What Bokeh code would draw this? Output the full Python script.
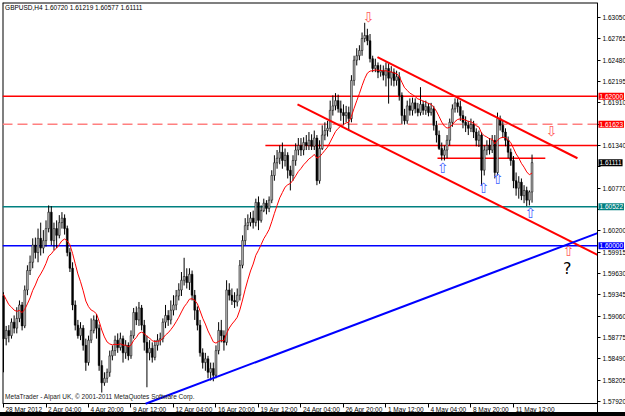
from bokeh.plotting import figure
from bokeh.models import Range1d, FixedTicker, Label, ColumnDataSource, Div, LinearAxis
from bokeh.layouts import column
from bokeh.embed import file_html
from bokeh.resources import INLINE
from bokeh.core.properties import value

header_text = "GBPUSD,H4  1.60720 1.61219 1.60577 1.61111"
copyright_text = "MetaTrader - Alpari UK, \u00a9 2001-2011 MetaQuotes Software Corp."

first_open = 1.5933
closes = [
    1.5876, 1.5887, 1.5880, 1.5898, 1.5890, 1.5903, 1.5921, 1.5893, 1.5941, 1.5967,
    1.5978, 1.6001, 1.5991, 1.6010, 1.5997, 1.6007, 1.6023, 1.6045, 1.6007, 1.6023,
    1.6014, 1.6031, 1.6037, 1.6023, 1.5991, 1.5970, 1.5921, 1.5894, 1.5880, 1.5890,
    1.5867, 1.5844, 1.5874, 1.5887, 1.5901, 1.5890, 1.5840, 1.5817, 1.5823, 1.5831,
    1.5853, 1.5860, 1.5874, 1.5864, 1.5876, 1.5857, 1.5867, 1.5853, 1.5880, 1.5911,
    1.5901, 1.5917, 1.5894, 1.5871, 1.5857, 1.5863, 1.5851, 1.5867, 1.5874, 1.5876,
    1.5898, 1.5907, 1.5901, 1.5914, 1.5921, 1.5933, 1.5941, 1.5954, 1.5959, 1.5951,
    1.5962, 1.5934, 1.5914, 1.5894, 1.5857, 1.5844, 1.5849, 1.5831, 1.5836, 1.5827,
    1.5860, 1.5887, 1.5880, 1.5871, 1.5941, 1.5934, 1.5927, 1.5925, 1.5934, 1.5974,
    1.6007, 1.6027, 1.6031, 1.6037, 1.6031, 1.6058, 1.6034, 1.6047, 1.6057, 1.6050,
    1.6061, 1.6094, 1.6111, 1.6117, 1.6125, 1.6114, 1.6121, 1.6101, 1.6094, 1.6114,
    1.6128, 1.6134, 1.6128, 1.6138, 1.6134, 1.6141, 1.6133, 1.6144, 1.6087, 1.6130,
    1.6148, 1.6154, 1.6157, 1.6181, 1.6187, 1.6194, 1.6183, 1.6178, 1.6174, 1.6178,
    1.6170, 1.6221, 1.6248, 1.6254, 1.6261, 1.6277, 1.6281, 1.6274, 1.6250, 1.6237,
    1.6241, 1.6232, 1.6234, 1.6228, 1.6237, 1.6224, 1.6232, 1.6221, 1.6226, 1.6201,
    1.6174, 1.6167, 1.6187, 1.6181, 1.6191, 1.6183, 1.6178, 1.6189, 1.6181, 1.6186,
    1.6178, 1.6183, 1.6161, 1.6148, 1.6130, 1.6121, 1.6128, 1.6141, 1.6165, 1.6183,
    1.6191, 1.6186, 1.6174, 1.6165, 1.6161, 1.6157, 1.6162, 1.6152, 1.6141, 1.6148,
    1.6101, 1.6128, 1.6134, 1.6128, 1.6141, 1.6098, 1.6170, 1.6161, 1.6152, 1.6141,
    1.6125, 1.6114, 1.6087, 1.6077, 1.6085, 1.6067, 1.6074, 1.6061, 1.6072, 1.61111,
]
highs = [
    1.5938, 1.5893, 1.5894, 1.5903, 1.5907, 1.5918, 1.5927, 1.5925, 1.5947, 1.5974,
    1.5987, 1.6010, 1.6011, 1.6023, 1.6031, 1.6021, 1.6034, 1.6054, 1.6053, 1.6031,
    1.6034, 1.6041, 1.6045, 1.6042, 1.6027, 1.5997, 1.5978, 1.5927, 1.5901, 1.5898,
    1.5894, 1.5876, 1.5880, 1.5903, 1.5907, 1.5909, 1.5895, 1.5847, 1.5831, 1.5836,
    1.5860, 1.5867, 1.5880, 1.5883, 1.5884, 1.5880, 1.5874, 1.5871, 1.5887, 1.5917,
    1.5919, 1.5925, 1.5921, 1.5901, 1.5880, 1.5874, 1.5871, 1.5874, 1.5882, 1.5884,
    1.5903, 1.5921, 1.5914, 1.5927, 1.5934, 1.5941, 1.5950, 1.5965, 1.5984, 1.5970,
    1.5970, 1.5967, 1.5941, 1.5919, 1.5901, 1.5863, 1.5857, 1.5853, 1.5844, 1.5844,
    1.5867, 1.5898, 1.5901, 1.5887, 1.5954, 1.5950, 1.5943, 1.5938, 1.5943, 1.5981,
    1.6014, 1.6037, 1.6042, 1.6045, 1.6047, 1.6063, 1.6066, 1.6054, 1.6063, 1.6061,
    1.6066, 1.6101, 1.6121, 1.6128, 1.6134, 1.6138, 1.6130, 1.6125, 1.6107, 1.6121,
    1.6137, 1.6144, 1.6144, 1.6145, 1.6148, 1.6152, 1.6149, 1.6154, 1.6148, 1.6141,
    1.6161, 1.6165, 1.6167, 1.6194, 1.6201, 1.6204, 1.6202, 1.6194, 1.6189, 1.6187,
    1.6186, 1.6228, 1.6254, 1.6264, 1.6268, 1.6285, 1.6298, 1.6290, 1.6283, 1.6254,
    1.6250, 1.6245, 1.6242, 1.6241, 1.6245, 1.6244, 1.6240, 1.6237, 1.6234, 1.6232,
    1.6205, 1.6183, 1.6194, 1.6197, 1.6198, 1.6197, 1.6191, 1.6212, 1.6194, 1.6194,
    1.6191, 1.6191, 1.6187, 1.6167, 1.6154, 1.6138, 1.6134, 1.6148, 1.6170, 1.6189,
    1.6197, 1.6197, 1.6194, 1.6181, 1.6173, 1.6167, 1.6170, 1.6167, 1.6157, 1.6154,
    1.6152, 1.6134, 1.6141, 1.6144, 1.6148, 1.6148, 1.6178, 1.6174, 1.6167, 1.6157,
    1.6146, 1.6130, 1.6120, 1.6098, 1.6093, 1.6090, 1.6081, 1.6079, 1.6074, 1.61219,
]
lows = [
    1.5831, 1.5867, 1.5871, 1.5876, 1.5883, 1.5883, 1.5898, 1.5887, 1.5890, 1.5934,
    1.5961, 1.5970, 1.5983, 1.5978, 1.5987, 1.5990, 1.5999, 1.6018, 1.6001, 1.5994,
    1.5997, 1.6010, 1.6023, 1.6015, 1.5986, 1.5965, 1.5914, 1.5887, 1.5876, 1.5874,
    1.5860, 1.5833, 1.5840, 1.5870, 1.5883, 1.5876, 1.5833, 1.5804, 1.5813, 1.5817,
    1.5825, 1.5847, 1.5853, 1.5857, 1.5860, 1.5844, 1.5849, 1.5847, 1.5849, 1.5876,
    1.5894, 1.5893, 1.5887, 1.5860, 1.5811, 1.5847, 1.5844, 1.5847, 1.5860, 1.5867,
    1.5871, 1.5890, 1.5893, 1.5895, 1.5907, 1.5914, 1.5927, 1.5933, 1.5947, 1.5943,
    1.5941, 1.5927, 1.5901, 1.5887, 1.5852, 1.5836, 1.5833, 1.5823, 1.5820, 1.5819,
    1.5823, 1.5855, 1.5871, 1.5860, 1.5867, 1.5927, 1.5921, 1.5917, 1.5919, 1.5927,
    1.5970, 1.6001, 1.6021, 1.6026, 1.6023, 1.6026, 1.6021, 1.6031, 1.6045, 1.6042,
    1.6045, 1.6057, 1.6087, 1.6103, 1.6109, 1.6103, 1.6106, 1.6090, 1.6074, 1.6087,
    1.6107, 1.6121, 1.6120, 1.6121, 1.6128, 1.6128, 1.6128, 1.6128, 1.6081, 1.6083,
    1.6128, 1.6141, 1.6146, 1.6152, 1.6174, 1.6181, 1.6178, 1.6167, 1.6161, 1.6165,
    1.6154, 1.6165, 1.6214, 1.6241, 1.6248, 1.6254, 1.6272, 1.6268, 1.6245, 1.6232,
    1.6232, 1.6224, 1.6226, 1.6221, 1.6213, 1.6190, 1.6214, 1.6213, 1.6214, 1.6194,
    1.6163, 1.6162, 1.6163, 1.6174, 1.6174, 1.6177, 1.6173, 1.6174, 1.6175, 1.6175,
    1.6173, 1.6174, 1.6154, 1.6138, 1.6128, 1.6114, 1.6114, 1.6117, 1.6134, 1.6159,
    1.6178, 1.6178, 1.6167, 1.6157, 1.6152, 1.6148, 1.6152, 1.6144, 1.6133, 1.6132,
    1.6081, 1.6094, 1.6121, 1.6122, 1.6124, 1.6090, 1.6094, 1.6154, 1.6144, 1.6133,
    1.6117, 1.6107, 1.6077, 1.6067, 1.6063, 1.6061, 1.6057, 1.6053, 1.6054, 1.60577,
]

time_labels = ["28 Mar 2012", "2 Apr 04:00", "4 Apr 20:00", "9 Apr 12:00", "12 Apr 04:00",
               "16 Apr 20:00", "19 Apr 12:00", "24 Apr 04:00", "26 Apr 20:00", "1 May 12:00",
               "4 May 04:00", "8 May 20:00", "11 May 12:00"]
bars_per_label = 16

price_ticks = [1.57920, 1.58205, 1.58490, 1.58775, 1.59060, 1.59345, 1.59630, 1.59915,
               1.60200, 1.60485, 1.60770, 1.61055, 1.61340, 1.61625, 1.61910, 1.62195,
               1.62480, 1.62765, 1.63050]

# horizontal levels drawn across the whole chart
full_levels = [1.62000, 1.61623, 1.60522, 1.60000]
full_level_colors = ["#ff0000", "#ff8080", "#008080", "#0000ff"]
full_level_dash = ["solid", "10 5", "solid", "solid"]
# horizontal levels starting at a bar
part_levels = [1.61340, 1.61170]
part_from = [98.6, 163.4]
part_to = [223.65, 204.0]

# trend lines (bar index, price) anchors
trend_x0 = [140.8, 110.7, 53.5]
trend_y0 = [1.6252, 1.6189, 1.5789]
trend_x1 = [216.1, 223.65, 223.65]
trend_y1 = [1.6117, 1.5988, 1.6017]
trend_colors = ["#ff0000", "#ff0000", "#0000ff"]

arrow_x = [137.4, 206.3, 212.7, 165.3, 180.7, 186.0, 198.4]
arrow_y = [1.6306, 1.6154, 1.5993, 1.6104, 1.6077, 1.6089, 1.6044]
arrow_sym = ["\u21e9", "\u21e9", "\u21e7", "\u21e7", "\u21e7", "\u21e7", "\u21e7"]
arrow_col = ["#ff5a5a", "#ff5a5a", "#ff5a5a", "#3f62ff", "#3f62ff", "#3f62ff", "#3f62ff"]

box_prices = [1.62000, 1.61623, 1.61111, 1.60522, 1.60000]
box_texts = ["1.62000", "1.61623", "1.61111", "1.60522", "1.60000"]
box_colors = ["#ff0000", "#ff0000", "#000000", "#008080", "#0000ff"]

question_x, question_y = 212.3, 1.5970
ma_seed = 1.5945
ma_span = 13

# chart geometry (bar index / price at the edges of the drawing area)
x_lo, x_axis_at, x_hi = -0.38, 223.65, 234.19
y_canvas_lo, y_chart_lo, y_hi = 1.57773, 1.57893, 1.63251
px_per_bar = 2.656
FONT = "Liberation Sans"
FS = 6.5

n = len(closes)
idx = list(range(n))
opens = [first_open] + closes[:-1]
hi = [max(h, o, c) for h, o, c in zip(highs, opens, closes)]
lo = [min(l, o, c) for l, o, c in zip(lows, opens, closes)]
alpha = 2.0 / (ma_span + 1)
ma = []
m = ma_seed
for c in closes:
    m = m + alpha * (c - m)
    ma.append(m)

up = [c >= o for o, c in zip(opens, closes)]
def body_source(flag):
    sel = [i for i in idx if up[i] == flag]
    return ColumnDataSource(dict(x=sel,
                                 top=[max(opens[i], closes[i]) for i in sel],
                                 bottom=[min(opens[i], closes[i]) for i in sel]))
src_up = body_source(True)
src_dn = body_source(False)

p = figure(width=625, height=412, output_backend="svg", toolbar_location=None,
           x_range=Range1d(x_lo, x_hi), y_range=Range1d(y_canvas_lo, y_hi),
           x_axis_location=None, y_axis_location=None,
           min_border_left=2, min_border_top=2, min_border_right=0, min_border_bottom=0)
p.background_fill_color = "white"
p.border_fill_color = "white"
p.outline_line_color = None
p.xgrid.visible = False
p.ygrid.visible = False

# price axis on the right edge of the chart area; labels hidden where a level box sits
def price_label(t):
    if any(abs(t - b) < 0.0006 for b in box_prices):
        return ""
    return f"{t:.5f}"
ya = LinearAxis(fixed_location=x_axis_at, ticker=FixedTicker(ticks=price_ticks),
                major_label_overrides={t: price_label(t) for t in price_ticks},
                major_label_text_font=FONT, major_label_text_font_size=f"{FS}px",
                major_label_text_color="black", major_tick_out=3, major_tick_in=0,
                minor_tick_line_color=None, major_label_standoff=2,
                axis_line_color="black")
p.add_layout(ya, "right")

# time axis: tick marks at bars, labels starting just right of each tick
label_ticks = [i * bars_per_label for i in range(len(time_labels))]
xa_ticks = LinearAxis(fixed_location=y_chart_lo, ticker=FixedTicker(ticks=label_ticks),
                      major_label_overrides={t: "" for t in label_ticks},
                      major_label_text_font_size=f"{FS}px",
                      major_tick_out=4, major_tick_in=0, minor_tick_line_color=None,
                      axis_line_color=None)
p.add_layout(xa_ticks, "below")

em = {"M": 0.833, "A": 0.667, "a": 0.556, "r": 0.333, "p": 0.556, "y": 0.5,
      " ": 0.278, ":": 0.278}
def text_px(s):
    return sum(em.get(ch, 0.556) for ch in s) * FS
label_pos = [t + (text_px(s) / 2 + 2) / px_per_bar for t, s in zip(label_ticks, time_labels)]
xa_labels = LinearAxis(fixed_location=y_chart_lo, ticker=FixedTicker(ticks=label_pos),
                       major_label_overrides={v: s for v, s in zip(label_pos, time_labels)},
                       major_label_text_font=FONT, major_label_text_font_size=f"{FS}px",
                       major_label_text_color="black", major_tick_out=0, major_tick_in=0,
                       minor_tick_line_color=None, axis_line_color=None,
                       major_label_standoff=2)
p.add_layout(xa_labels, "below")

# edges of the chart area
p.segment(x0=[x_lo, x_lo, x_lo], y0=[y_chart_lo, y_hi, y_chart_lo],
          x1=[x_lo, x_axis_at, x_axis_at], y1=[y_hi, y_hi, y_chart_lo],
          line_color="black", line_width=[2, 2, 1])

for lv, col, dash in zip(full_levels, full_level_colors, full_level_dash):
    p.segment(x0=[x_lo], y0=[lv], x1=[x_axis_at], y1=[lv],
              line_color=col, line_width=1.5, line_dash=dash)
p.segment(x0=part_from, y0=part_levels, x1=part_to, y1=part_levels,
          line_color="#ff0000", line_width=1.5)

# candles
p.segment(x0=idx, y0=lo, x1=idx, y1=hi, line_color="black", line_width=1)
p.vbar(x="x", top="top", bottom="bottom", width=0.7, source=src_up,
       fill_color="#b4b4b4", line_color="black", line_width=0.5)
p.vbar(x="x", top="top", bottom="bottom", width=0.7, source=src_dn,
       fill_color="black", line_color="black", line_width=0.5)

p.line(idx, ma, line_color="#ff0000", line_width=1)

p.segment(x0=trend_x0, y0=trend_y0, x1=trend_x1, y1=trend_y1,
          line_color=trend_colors, line_width=2)

p.text(x=arrow_x, y=arrow_y, text=arrow_sym, text_color=arrow_col,
       text_font=value("DejaVu Sans"), text_font_size="14px",
       text_align="center", text_baseline="middle")

p.add_layout(Label(x=question_x, y=question_y, text="?", text_font="DejaVu Sans",
                   text_font_size="16px", text_color="black",
                   text_align="center", text_baseline="middle"))

p.add_layout(Label(x=0.6, y=1.63237, text=header_text, text_font=FONT,
                   text_font_size=f"{FS}px", text_color="black", text_baseline="top"))
p.add_layout(Label(x=0.6, y=1.57935, text=copyright_text, text_font=FONT,
                   text_font_size=f"{FS}px", text_color="#202020", text_baseline="bottom"))

for pr, tx, col in zip(box_prices, box_texts, box_colors):
    lab = Label(x=x_axis_at, y=pr, text=tx, text_font=FONT, text_font_size=f"{FS}px",
                text_color="white", background_fill_color=col,
                text_baseline="middle", text_align="left", x_offset=1)
    try:
        lab.padding = 1
    except Exception:
        pass
    p.add_layout(lab)

bar = Div(text="", width=625, height=4, margin=0,
          styles={"background-color": "black", "width": "625px", "height": "4px"})
layout = column(p, bar, spacing=0)
open("out.html", "w").write(file_html(layout, INLINE))
